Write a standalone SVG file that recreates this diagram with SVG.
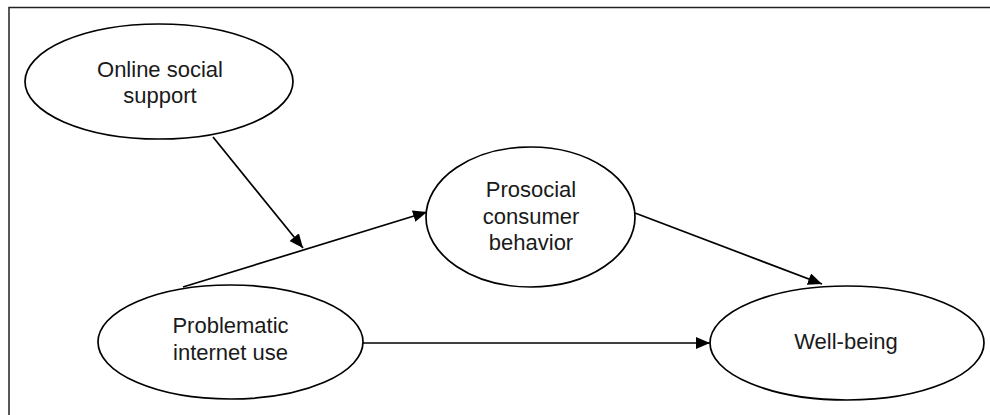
<svg xmlns="http://www.w3.org/2000/svg" width="990" height="415" viewBox="0 0 990 415">
<style>
.node ellipse{fill:#fff;stroke:#000;stroke-width:1.7}
.node text{font-family:"Liberation Sans",Arial,sans-serif;font-size:22px;fill:#1a1a1a;text-anchor:middle}
.edge{stroke:#000;stroke-width:1.7;fill:none;marker-end:url(#arr)}
</style>
<defs>
<marker id="arr" markerUnits="userSpaceOnUse" markerWidth="16" markerHeight="14" refX="14" refY="6" orient="auto">
<path d="M0,0 L14,6 L0,12 z" fill="#000"/>
</marker>
</defs>
<rect width="990" height="415" fill="#fff"/>
<path d="M9,415 L9,7.5 L990,7.5" fill="none" stroke="#222" stroke-width="1.5"/>
<g id="connectors">
<line class="edge" x1="213" y1="137" x2="303" y2="248"/>
<line class="edge" x1="183" y1="287" x2="427" y2="212"/>
<line class="edge" x1="635" y1="213" x2="822" y2="284"/>
<line class="edge" x1="363" y1="343" x2="710" y2="343"/>
</g>
<g id="online" class="node">
<ellipse cx="159" cy="81.5" rx="134" ry="57.5"/>
<text x="160" y="77">Online social</text>
<text x="160" y="103">support</text>
</g>
<g id="prosocial" class="node">
<ellipse cx="530.5" cy="217" rx="104.5" ry="70"/>
<text x="531" y="197">Prosocial</text>
<text x="531" y="224">consumer</text>
<text x="531" y="250">behavior</text>
</g>
<g id="problematic" class="node">
<ellipse cx="230.5" cy="342" rx="132.5" ry="57"/>
<text x="230.5" y="333">Problematic</text>
<text x="230.5" y="360">internet use</text>
</g>
<g id="wellbeing" class="node">
<ellipse cx="847" cy="343" rx="137" ry="57"/>
<text x="846" y="349">Well-being</text>
</g>
</svg>
